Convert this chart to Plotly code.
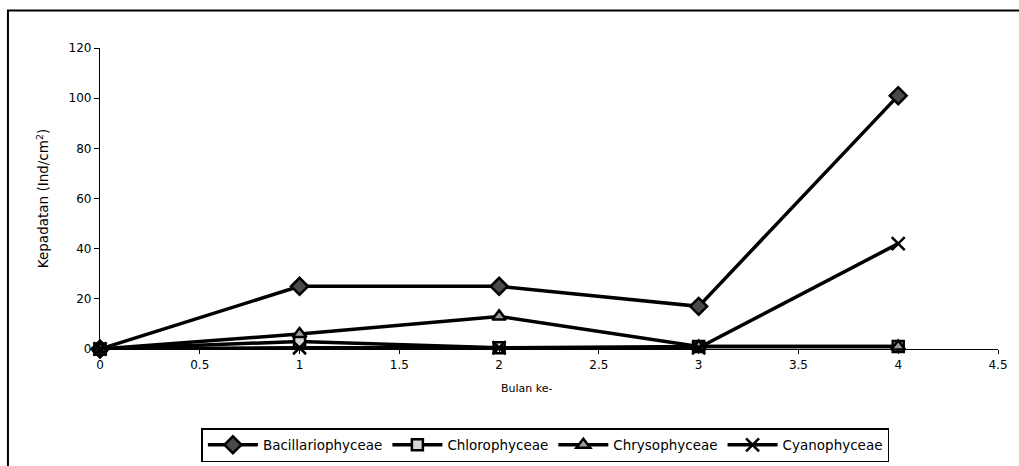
import plotly.graph_objects as go

bulan = [0, 1, 2, 3, 4]
bacillariophyceae = [0, 25, 25, 17, 101]
chlorophyceae = [0, 3, 0.5, 1, 1]
chrysophyceae = [0, 6, 13, 1, 1]
cyanophyceae = [0, 0.5, 0.5, 0.5, 42]

series = [
    ("Bacillariophyceae", bacillariophyceae, "diamond", "#4a4a4a", 13),
    ("Chlorophyceae", chlorophyceae, "square", "#d8d8d8", 11),
    ("Chrysophyceae", chrysophyceae, "triangle-up", "#9a9a9a", 12),
    ("Cyanophyceae", cyanophyceae, "x-thin", "#000000", 13),
]

FAMILY = "DejaVu Sans, Arial, sans-serif"

fig = go.Figure()
for name, vals, sym, fill, size in series:
    fig.add_trace(go.Scatter(
        x=bulan, y=vals, name=name, mode="lines+markers",
        line=dict(color="black", width=3.5),
        marker=dict(symbol=sym, size=size, color=fill,
                    line=dict(color="black", width=2.5)),
        cliponaxis=False,
    ))

tick_font = dict(family=FAMILY, size=12, color="black")

fig.update_layout(
    template="none",
    width=1019, height=466,
    margin=dict(l=100, r=21, t=48, b=117, autoexpand=False),
    paper_bgcolor="white", plot_bgcolor="white",
    font=dict(family=FAMILY, size=12, color="black"),
    xaxis=dict(
        range=[0, 4.5], tickvals=[0, 0.5, 1, 1.5, 2, 2.5, 3, 3.5, 4, 4.5],
        ticktext=["0", "0.5", "1", "1.5", "2", "2.5", "3", "3.5", "4", "4.5"],
        showgrid=False, zeroline=False, showline=True, linecolor="black", linewidth=1.2,
        ticks="outside", ticklen=4, tickcolor="black", tickfont=tick_font,
    ),
    yaxis=dict(
        range=[0, 120], dtick=20,
        showgrid=False, zeroline=False, showline=True, linecolor="black", linewidth=1.2,
        ticks="outside", ticklen=5, tickcolor="black", tickfont=tick_font,
        title=dict(text="Kepadatan (Ind/cm<sup>2</sup>)",
                   font=dict(family=FAMILY, size=13.5, color="black"), standoff=16),
    ),
    legend=dict(
        orientation="h", x=0.496, y=-0.319, xanchor="center", yanchor="middle",
        bordercolor="black", borderwidth=1.5,
        font=dict(family=FAMILY, size=13.5, color="black"),
        itemwidth=50, tracegroupgap=0, bgcolor="white",
    ),
    showlegend=True,
)

# x-axis title sits a little left of the plot centre in the original
fig.add_annotation(text="Bulan ke-", xref="x", yref="paper", x=2.14, y=-0.13,
                   showarrow=False, xanchor="center", yanchor="middle",
                   font=dict(family=FAMILY, size=11, color="black"))

# outer chart frame (top and left edges visible, rest runs off the page)
fig.add_shape(type="rect", xref="paper", yref="paper",
              x0=-0.1025, x1=1.1, y0=-0.5, y1=1.125,
              line=dict(color="black", width=2), layer="below")

fig.write_html("out.html", config={"displayModeBar": False},
               post_script="document.body.style.margin='0';document.body.style.overflow='hidden';")
